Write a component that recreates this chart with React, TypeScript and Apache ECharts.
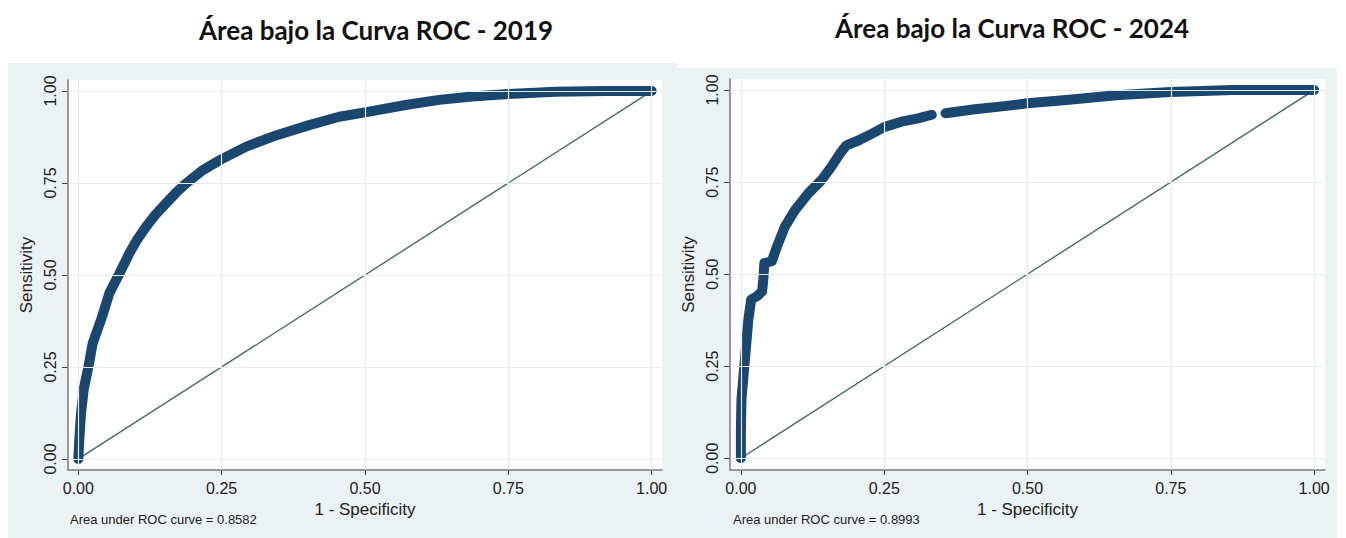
import React, { useEffect, useRef } from "react";
import * as echarts from "echarts";

const TICKS = [0, 0.25, 0.5, 0.75, 1];

const TITLES = ["Área bajo la Curva ROC - 2019", "Área bajo la Curva ROC - 2024"];
const AUC_NOTES = ["Area under ROC curve = 0.8582", "Area under ROC curve = 0.8993"];
const X_TITLE = "1 - Specificity";
const Y_TITLE = "Sensitivity";

const fpr2019 = [0, 0.0017, 0.0047, 0.0095, 0.0175, 0.025, 0.04, 0.054, 0.072, 0.089, 0.103, 0.118, 0.135, 0.153, 0.17, 0.188, 0.217, 0.25, 0.293, 0.346, 0.404, 0.455, 0.5, 0.571, 0.629, 0.687, 0.75, 0.833, 0.92, 1.0];
const tpr2019 = [0, 0.052, 0.124, 0.19, 0.25, 0.314, 0.38, 0.45, 0.505, 0.559, 0.597, 0.631, 0.665, 0.695, 0.723, 0.749, 0.785, 0.815, 0.849, 0.88, 0.908, 0.93, 0.942, 0.962, 0.976, 0.985, 0.992, 0.998, 1.0, 1.0];

// null marks the small break visible in the 2024 curve
const fpr2024 = [0, 0, 0.001, 0.005, 0.009, 0.013, 0.018, 0.028, 0.037, 0.039, 0.041, 0.054, 0.063, 0.077, 0.095, 0.118, 0.141, 0.158, 0.173, 0.184, 0.205, 0.228, 0.251, 0.28, 0.309, 0.333, 0.345, 0.357, 0.408, 0.452, 0.5, 0.568, 0.655, 0.75, 0.858, 1.0];
const tpr2024 = [0, 0.079, 0.16, 0.232, 0.304, 0.377, 0.431, 0.44, 0.453, 0.485, 0.53, 0.535, 0.575, 0.63, 0.675, 0.72, 0.756, 0.792, 0.828, 0.85, 0.863, 0.881, 0.9, 0.914, 0.923, 0.933, null, 0.937, 0.948, 0.955, 0.964, 0.973, 0.986, 0.995, 1.0, 1.0];

const diagX = [0, 1];
const diagY = [0, 1];

const CURVE_COLOR = "#1a476f";
const DIAG_COLOR = "#44705f";
const GRID_COLOR = "#e6eaea";
const AXIS_COLOR = "#7a7a7a";
const PANEL_BG = "#eaf2f3";
const FONT = "'Liberation Sans', Arial, sans-serif";

function pairs(xs: number[], ys: (number | null)[]) {
  return xs.map((x, i) => (ys[i] === null ? [x, "-"] : [x, ys[i]]));
}

export default function App() {
  const ref = useRef<HTMLDivElement>(null);

  useEffect(() => {
    document.body.style.margin = "0";
    if (!ref.current) return;
    const chart = echarts.init(ref.current, undefined, { renderer: "svg" });

    const grids = [
      { left: 68, top: 80, width: 594, height: 390 },
      { left: 730, top: 79, width: 595, height: 391 },
    ];
    const xExt = [
      [-0.018, 1.018],
      [-0.019, 1.019],
    ];
    const yExt = [
      [-0.03, 1.03],
      [-0.032, 1.03],
    ];

    const mkX = (i: number) => ({
      type: "value",
      gridIndex: i,
      min: xExt[i][0],
      max: xExt[i][1],
      name: X_TITLE,
      nameLocation: "middle",
      nameGap: 26,
      nameTextStyle: { fontSize: 17, fontFamily: FONT, color: "#222" },
      splitLine: { show: false },
      axisLine: { show: true, onZero: false, lineStyle: { color: AXIS_COLOR, width: 1.5 } },
      axisTick: { show: true, customValues: TICKS, length: 5, lineStyle: { color: "#444", width: 1 } },
      axisLabel: {
        customValues: TICKS,
        formatter: (v: number) => v.toFixed(2),
        fontSize: 16,
        fontFamily: FONT,
        color: "#222",
        margin: 10,
      },
    });
    const mkY = (i: number) => ({
      type: "value",
      gridIndex: i,
      min: yExt[i][0],
      max: yExt[i][1],
      name: Y_TITLE,
      nameLocation: "middle",
      nameGap: 33,
      nameTextStyle: { fontSize: 17, fontFamily: FONT, color: "#222" },
      splitLine: { show: false },
      axisLine: { show: true, onZero: false, lineStyle: { color: AXIS_COLOR, width: 1.5 } },
      axisTick: { show: true, customValues: TICKS, length: 6, lineStyle: { color: "#444", width: 1 } },
      axisLabel: {
        customValues: TICKS,
        formatter: (v: number) => v.toFixed(2),
        fontSize: 16,
        fontFamily: FONT,
        color: "#222",
        rotate: 90,
        margin: 10,
      },
    });

    const gridLines = (i: number) => ({
      type: "line",
      xAxisIndex: i,
      yAxisIndex: i,
      data: [[0, 0]],
      symbol: "none",
      lineStyle: { opacity: 0 },
      silent: true,
      z: 1,
      markLine: {
        silent: true,
        symbol: ["none", "none"],
        label: { show: false },
        lineStyle: { color: GRID_COLOR, width: 1.2, type: "solid" },
        data: [...TICKS.map((t) => ({ xAxis: t })), ...TICKS.map((t) => ({ yAxis: t }))],
      },
    });
    const diag = (i: number) => ({
      type: "line",
      xAxisIndex: i,
      yAxisIndex: i,
      data: pairs(diagX, diagY),
      symbol: "none",
      silent: true,
      z: 2,
      lineStyle: { color: DIAG_COLOR, width: 1.4 },
    });
    const curve = (i: number, xs: number[], ys: (number | null)[]) => ({
      type: "line",
      xAxisIndex: i,
      yAxisIndex: i,
      data: pairs(xs, ys),
      symbol: "none",
      smooth: false,
      connectNulls: false,
      silent: true,
      z: 3,
      lineStyle: { color: CURVE_COLOR, width: 10, cap: "round", join: "round" },
    });

    chart.setOption({
      animation: false,
      backgroundColor: "#ffffff",
      grid: grids.map((g) => ({ ...g, show: true, backgroundColor: "#ffffff", borderWidth: 0, containLabel: false })),
      xAxis: [mkX(0), mkX(1)],
      yAxis: [mkY(0), mkY(1)],
      series: [
        gridLines(0),
        diag(0),
        curve(0, fpr2019, tpr2019),
        gridLines(1),
        diag(1),
        curve(1, fpr2024, tpr2024),
      ],
      graphic: [
        { type: "rect", z: -10, shape: { x: 8, y: 63, width: 669, height: 475 }, style: { fill: PANEL_BG } },
        { type: "rect", z: -10, shape: { x: 677, y: 68, width: 660, height: 470 }, style: { fill: PANEL_BG } },
        {
          type: "text",
          x: 376,
          y: 30,
          style: { text: TITLES[0], fill: "#111", font: "bold 26px Lato, 'Open Sans', sans-serif", align: "center", verticalAlign: "middle" },
        },
        {
          type: "text",
          x: 1012,
          y: 28,
          style: { text: TITLES[1], fill: "#111", font: "bold 26px Lato, 'Open Sans', sans-serif", align: "center", verticalAlign: "middle" },
        },
        {
          type: "text",
          x: 70,
          y: 519,
          style: { text: AUC_NOTES[0], fill: "#222", font: "13px 'Liberation Sans', Arial, sans-serif", align: "left", verticalAlign: "middle" },
        },
        {
          type: "text",
          x: 733,
          y: 519,
          style: { text: AUC_NOTES[1], fill: "#222", font: "13px 'Liberation Sans', Arial, sans-serif", align: "left", verticalAlign: "middle" },
        },
      ],
    });

    return () => chart.dispose();
  }, []);

  return <div ref={ref} style={{ width: 1346, height: 538 }} />;
}
